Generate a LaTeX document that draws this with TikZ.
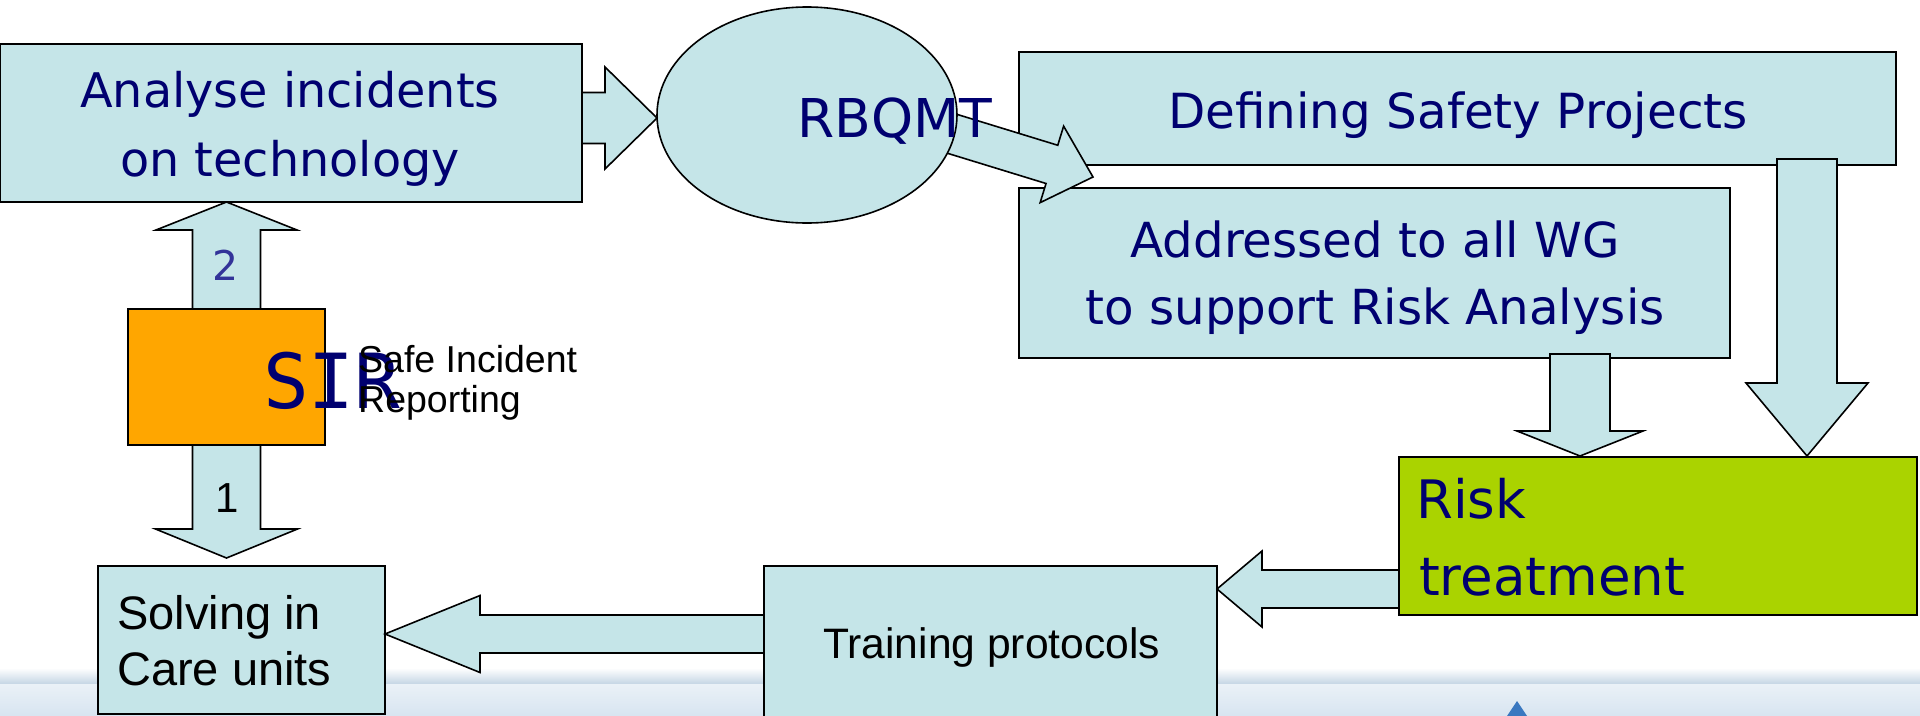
\documentclass[tikz,border=0pt]{standalone}
\usepackage{fontspec}
\usetikzlibrary{shapes.geometric,calc}
\newfontfamily\vfont{DejaVu Sans}
\newfontfamily\afont{Liberation Sans}
\newfontfamily\mfont{DejaVu Sans Mono}
\newcommand\fsz[1]{\fontsize{#1}{#1}\selectfont}

\definecolor{boxcyan}{RGB}{197,229,232}
\definecolor{sirorange}{RGB}{255,166,0}
\definecolor{riskgreen}{RGB}{170,211,0}
\definecolor{navytext}{RGB}{0,0,112}
\definecolor{numblue}{RGB}{51,51,153}
\definecolor{bandline}{RGB}{196,213,228}
\definecolor{bandtop}{RGB}{234,241,247}
\definecolor{bandbot}{RGB}{216,229,241}
\definecolor{logoblue}{RGB}{58,120,192}

\pgfdeclarelayer{band}
\pgfdeclarelayer{boxes}
\pgfdeclarelayer{diag}
\pgfsetlayers{band,boxes,diag,main}

% block arrow: #1 tail, #2 tip, #3 shaft half-width, #4 head half-width, #5 head length
\newcommand{\blockarrow}[5]{%
  \path[barrow] let \p1=(#1), \p2=(#2),
      \n1={atan2(\y2-\y1,\x2-\x1)}, \n2={veclen(\x2-\x1,\y2-\y1)} in
    [shift={(\p1)}, rotate=\n1]
    (0,{#3}) -- ({\n2-#5},{#3}) -- ({\n2-#5},{#4}) -- ({\n2},0)
    -- ({\n2-#5},{-#4}) -- ({\n2-#5},{-#3}) -- (0,{-#3}) -- cycle;}

\tikzset{
  box/.style={rectangle, draw=black, line width=1.6pt, fill=boxcyan,
    inner sep=0pt, outer sep=0pt},
  barrow/.style={draw=black, fill=boxcyan, line width=1.6pt, line join=miter},
  vtxt/.style={inner sep=0pt, text=navytext, font=\vfont},
  atxt/.style={inner sep=0pt, text=black, font=\afont},
}

\begin{document}
\begin{tikzpicture}[x=1pt,y=1pt]
\useasboundingbox (0,0) rectangle (1920,-715);

% soft horizon band along the bottom
\begin{pgfonlayer}{band}
  \shade[top color=white, bottom color=bandline] (0,-668) rectangle (1920,-684);
  \shade[top color=bandtop, bottom color=bandbot] (0,-684) rectangle (1920,-715);
  \fill[logoblue] (1517,-701) -- (1527,-716) -- (1507,-716) -- cycle;
\end{pgfonlayer}

% boxes
\node[box, minimum width=582, minimum height=158] (ana) at (291,-123) {};
\node[box, ellipse, minimum width=300, minimum height=216] (rb) at (807,-115) {};
\begin{pgfonlayer}{boxes}
  \node[box, minimum width=877, minimum height=113] (def) at (1457.5,-108.5) {};
  \node[box, minimum width=711, minimum height=170] (adr) at (1374.5,-273) {};
\end{pgfonlayer}
\node[box, fill=sirorange, minimum width=197, minimum height=136] (sir) at (226.5,-377) {};
\node[box, fill=riskgreen, minimum width=518, minimum height=158] (risk) at (1658,-536) {};
\node[box, minimum width=287, minimum height=148] (sol) at (241.5,-640) {};
\node[box, minimum width=453, minimum height=188] (trn) at (990.5,-660) {};

% block arrows
\blockarrow{ana.east |- 0,-118}{rb.west |- 0,-118}{25.5}{51}{52}
\blockarrow{sir.north}{sir.north |- ana.south}{34}{70.5}{28}
\blockarrow{sir.south}{$(sir.south |- sol.north)+(0,8)$}{34}{71}{29}
\begin{pgfonlayer}{diag}
  \blockarrow{$(rb.center)+(123,-12)$}{$(def.south west)+(74,-12)$}{20}{40}{43}
\end{pgfonlayer}
\blockarrow{$(1580,0 |- adr.south)+(0,4)$}{$(1580,0 |- risk.north)+(0,1)$}{30}{63}{25}
\blockarrow{$(1807,0 |- def.south)+(0,6)$}{$(1807,0 |- risk.north)+(0,1)$}{30}{61}{73}
\blockarrow{risk.west |- 0,-589}{trn.east |- 0,-589}{19}{38}{45}
\blockarrow{trn.west |- 0,-634}{sol.east |- 0,-634}{19}{38.5}{95}

% texts
\node[vtxt, anchor=base, font=\vfont\fsz{47.7}] (anat1) at (290,-107) {Analyse incidents};
\node[vtxt, anchor=base, font=\vfont\fsz{47.7}] (anat2) at (290,-176) {on technology};
\node[vtxt, anchor=base west, font=\vfont\fsz{53.5}] (rbt) at (797,-137) {RBQMT};
\node[vtxt, anchor=base, font=\vfont\fsz{48.4}] (deft) at (1458,-128) {Defining Safety Projects};
\node[vtxt, anchor=base, font=\vfont\fsz{48.3}] (adrt1) at (1375,-257) {Addressed to all WG};
\node[vtxt, anchor=base, font=\vfont\fsz{48.3}] (adrt2) at (1375,-324) {to support Risk Analysis};
\node[vtxt, anchor=base west, font=\vfont\fsz{53}] (riskt1) at (1416,-518) {Risk};
\node[vtxt, anchor=base west, font=\vfont\fsz{53}] (riskt2) at (1419,-595) {treatment};
\node[vtxt, anchor=base west, font=\mfont\fsz{76}] (sirt) at (263,-408) {SIR};
\node[atxt, anchor=base west, font=\afont\fsz{37.5}] (sirn1) at (358,-372) {Safe Incident};
\node[atxt, anchor=base west, font=\afont\fsz{37.5}] (sirn2) at (358,-412) {Reporting};
\node[vtxt, text=numblue, font=\vfont\fsz{41}] (two) at (226,-265) {2};
\node[atxt, font=\afont\fsz{42}] (one) at (227,-498) {1};
\node[atxt, anchor=base west, font=\afont\fsz{47}] (solt1) at (117,-629) {Solving in};
\node[atxt, anchor=base west, font=\afont\fsz{47}] (solt2) at (117,-685) {Care units};
\node[atxt, anchor=base west, font=\afont\fsz{42.6}] (trnt) at (823,-658) {Training protocols};
\end{tikzpicture}
\end{document}
